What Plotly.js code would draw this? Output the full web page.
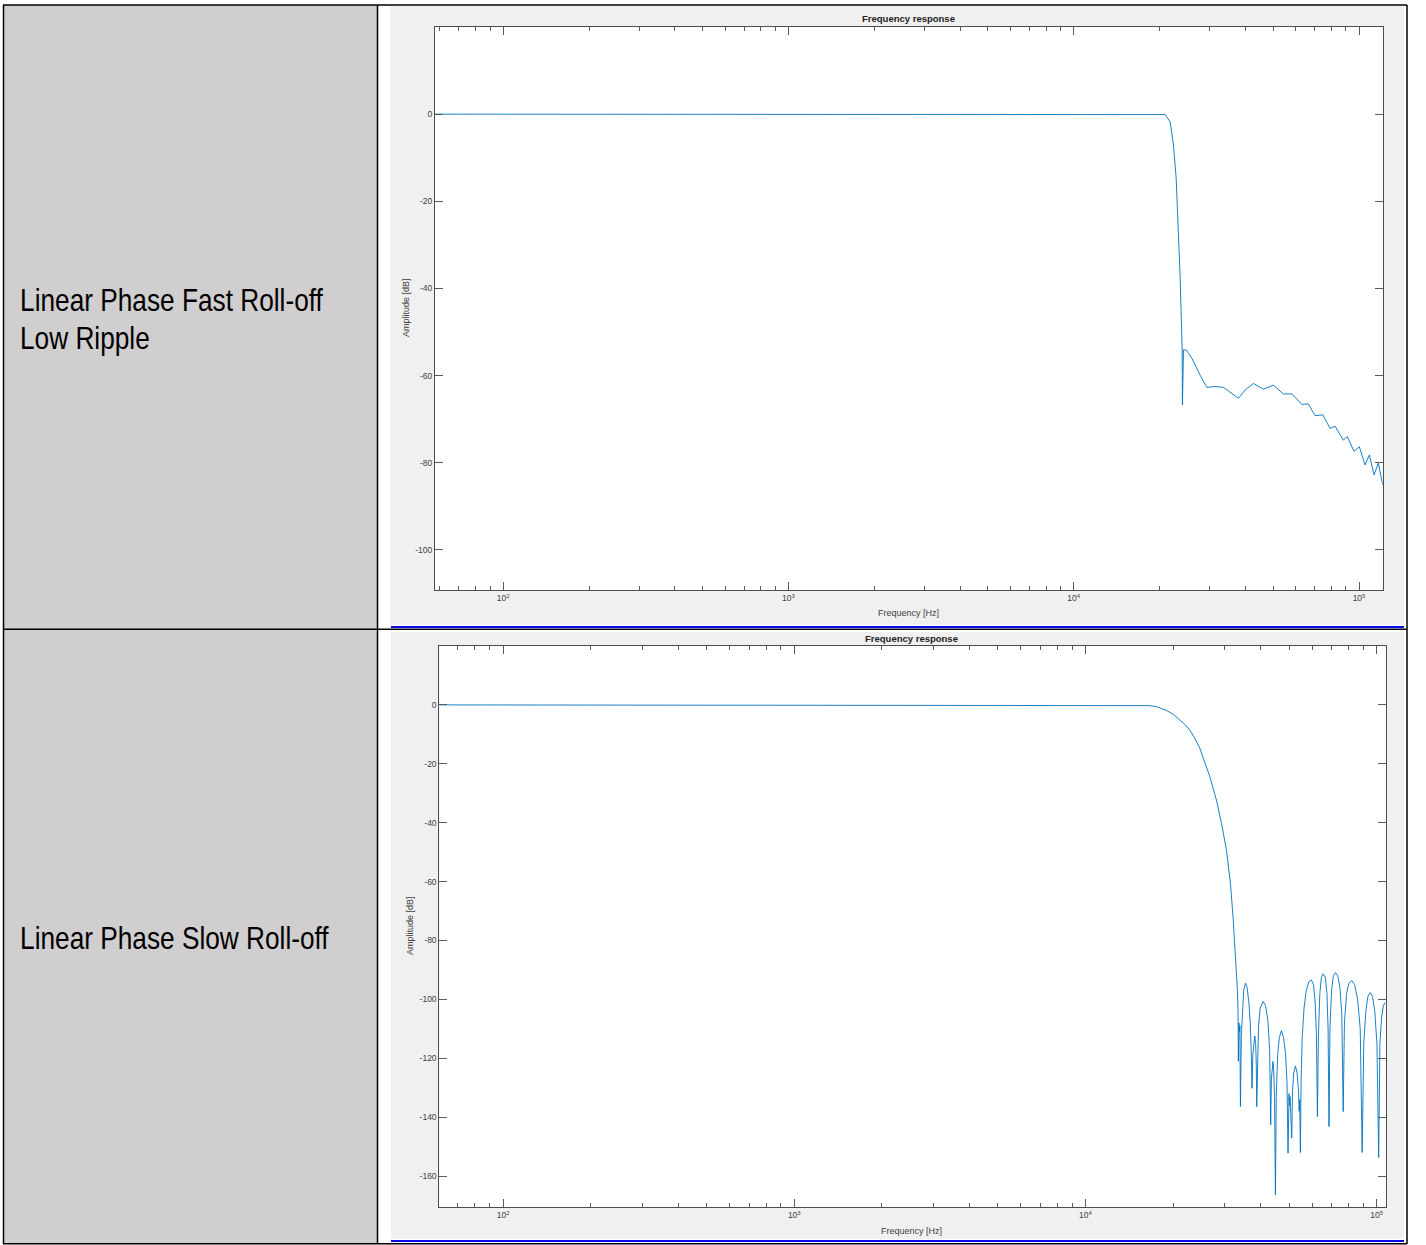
<!DOCTYPE html>
<html>
<head>
<meta charset="utf-8">
<script src="https://cdn.plot.ly/plotly-3.0.1.min.js"></script>
<style>
  html, body { margin: 0; padding: 0; background: #ffffff; }
  #chart { width: 1426px; height: 1245px; }
</style>
</head>
<body>
<div id="chart"></div>
<script>
// ---------------- data ----------------
const rowLabels = ["Linear Phase Fast Roll-off", "Low Ripple", "Linear Phase Slow Roll-off"];
const plotTitle = "Frequency response";
const xTitle = "Frequency [Hz]";
const yTitle = "Amplitude [dB]";

const xTickVals = [100, 1000, 10000, 100000];
const xTickText = ["10<sup>2</sup>", "10<sup>3</sup>", "10<sup>4</sup>", "10<sup>5</sup>"];
const xMinorVals = [60, 70, 80, 90, 200, 300, 400, 500, 600, 700, 800, 900,
  2000, 3000, 4000, 5000, 6000, 7000, 8000, 9000,
  20000, 30000, 40000, 50000, 60000, 70000, 80000, 90000];

const yTickVals1 = [0, -20, -40, -60, -80, -100];
const yTickText1 = ["0", "-20", "-40", "-60", "-80", "-100"];
const yTickVals2 = [0, -20, -40, -60, -80, -100, -120, -140, -160];
const yTickText2 = ["0", "-20", "-40", "-60", "-80", "-100", "-120", "-140", "-160"];

// Filter 1: Linear Phase Fast Roll-off Low Ripple
const freq1 = [57.7, 100, 1000, 10000, 19000, 20920, 21780, 22360, 22860, 23290,
  23610, 23870, 23990, 24040, 24120, 24250, 24780, 25940, 27730, 29280,
  31330, 33470, 35830, 37780, 39880, 42660, 46220, 50120, 54330, 58130,
  63000, 66440, 70140, 74630, 79140, 82400, 88100, 91000, 96050, 100200,
  105000, 108700, 112900, 116860, 121060];
const amp1 = [0, 0, 0, 0, 0, -0.1, -1.8, -7.1, -14.7, -26.1,
  -37.6, -49.1, -53.7, -66.7, -55, -54.1, -54.1, -56, -59.9, -62.7,
  -62.5, -62.7, -64.1, -65.2, -63.3, -61.8, -63.1, -62.2, -64.2, -64.2,
  -66.6, -66.5, -69.2, -69.0, -72.1, -71.6, -74.8, -74.0, -77.4, -76.3,
  -80.5, -78.2, -82.8, -80.1, -85.1];

// Filter 2: Linear Phase Slow Roll-off
const freq2 = [60.4, 100, 1000, 10000, 14530, 16620, 17530, 18970, 19980, 21070,
  21920, 22800, 23730, 24690, 25680, 26720, 28170, 29310, 30480, 31460,
  32110, 32810, 33250, 33410, 33500,
  33650, 33800, 33900, 34050, 34300, 34600, 34950, 35430, 35900, 36400,
  36800, 37100, 37320, 37550, 37850, 38130, 38400, 38600, 38740, 38950,
  39300, 39800, 40720, 41500, 42300, 42900, 43260, 43500, 43850, 44050,
  44300, 44600, 44900, 45200, 45700, 46300, 47090, 47900, 48700, 49200,
  49610, 49800, 50000, 50200, 50400, 50700, 51080, 51400, 51900, 52600,
  53300, 53900, 54200, 54400, 54550, 54720, 55000, 55500, 56300, 57300,
  58500, 59700, 60700, 61500, 62100, 62590, 63100, 63800, 64600, 65520,
  66600, 67500, 68100, 68600, 69100, 70000, 71000, 72210, 73500, 74800,
  75900, 76740, 77500, 78800, 80300, 82080, 84000, 86000, 87800, 89170,
  90300, 91800, 93300, 95000, 96800, 98500, 100200, 101600, 102600, 104000,
  105500, 107100];
const amp2 = [0, 0, 0, 0, -0.05, -0.25, -0.6, -1.9, -3.1, -5.1,
  -6.6, -8.5, -11.3, -14.7, -19.2, -24.3, -32.3, -40.2, -49.2, -60.5,
  -71.9, -85.5, -96.8, -104, -121,
  -108, -111, -109, -136.4, -112, -102, -97, -94.5, -96, -101,
  -108, -118, -130.2, -119, -113.5, -112.4, -115, -122, -136.4, -120,
  -109, -103, -100.7, -102, -107, -117, -142.6, -127, -122, -121.1,
  -124, -133, -166.4, -133, -119, -113, -110.6, -113, -119, -128,
  -152.2, -138, -132, -136, -133, -139, -147.1, -131, -125, -122.6,
  -125, -131, -138, -134, -142, -152, -128, -113, -103, -97,
  -94, -93.4, -95, -101, -112, -139.8, -112, -98, -92.5, -91.3,
  -92.5, -98, -110, -143.2, -110, -97, -92, -90.9, -92, -96,
  -105, -138.1, -108, -98, -94.5, -93.6, -95, -100, -110, -152,
  -115, -104, -99, -97.7, -99, -104, -115, -153.7, -115, -106,
  -102, -101];

// ---------------- layout helpers ----------------
const W = 1426, H = 1245;
const px = x => x / W;
const py = y => 1 - y / H;

const FONT = "Liberation Sans, Arial, Helvetica, sans-serif";
const lineColor = "#0072BD";
const axColor = "#4d4d4d";
const tickColor = "#5a5a5a";
const tickFont = { family: FONT, size: 8.5, color: "#404040" };

function rect(x0, y0, x1, y1, fill) {
  return { type: "rect", xref: "paper", yref: "paper", layer: "below",
    x0: px(x0), x1: px(x1), y0: py(y1), y1: py(y0),
    fillcolor: fill, line: { width: 0 } };
}
function hline(x0, x1, y, color, w) {
  return { type: "line", xref: "paper", yref: "paper", layer: "above",
    x0: px(x0), x1: px(x1), y0: py(y), y1: py(y), line: { color: color, width: w } };
}
function vline(x, y0, y1, color, w) {
  return { type: "line", xref: "paper", yref: "paper", layer: "above",
    x0: px(x), x1: px(x), y0: py(y0), y1: py(y1), line: { color: color, width: w } };
}
function xAxisCfg(domain, range, anchor) {
  return {
    type: "log", domain: domain, range: range, anchor: anchor,
    tickmode: "array", tickvals: xTickVals, ticktext: xTickText,
    ticks: "inside", ticklen: 8, tickwidth: 1, tickcolor: tickColor,
    minor: { tickmode: "array", tickvals: xMinorVals, ticks: "inside", ticklen: 4, tickwidth: 1, tickcolor: tickColor, showgrid: false },
    showline: true, linecolor: axColor, linewidth: 1, mirror: "ticks",
    showgrid: false, zeroline: false, tickfont: tickFont, fixedrange: true
  };
}
function yAxisCfg(domain, range, anchor, vals, text) {
  return {
    domain: domain, range: range, anchor: anchor,
    tickmode: "array", tickvals: vals, ticktext: text,
    ticks: "inside", ticklen: 8, tickwidth: 1, tickcolor: tickColor,
    showline: true, linecolor: axColor, linewidth: 1, mirror: "ticks",
    showgrid: false, zeroline: false, tickfont: tickFont, fixedrange: true
  };
}

const traces = [
  { x: freq1, y: amp1, type: "scatter", mode: "lines", xaxis: "x", yaxis: "y",
    line: { color: lineColor, width: 0.9 }, hoverinfo: "skip" },
  { x: freq2, y: amp2, type: "scatter", mode: "lines", xaxis: "x2", yaxis: "y2",
    line: { color: lineColor, width: 0.9 }, hoverinfo: "skip" }
];

const shapes = [
  rect(4, 5, 377, 629, "#d0cece"),
  rect(4, 630, 377, 1244, "#d0cece"),
  rect(390, 6, 1404, 625, "#f0f0f0"),
  rect(391, 632, 1404, 1239, "#f0f0f0"),
  rect(435, 27, 1382.7, 590, "#ffffff"),
  rect(439.3, 646, 1385.7, 1207, "#ffffff"),
  hline(391, 1404, 627, "#0a0ae6", 2.2),
  hline(391, 1404, 1241, "#0a0ae6", 2.2),
  hline(3, 1407, 5, "#000000", 1.5),
  hline(3, 1407, 629.2, "#000000", 1.5),
  hline(3, 1407, 1243.8, "#000000", 1.5),
  vline(3.5, 5, 1244, "#000000", 1.5),
  vline(377.5, 5, 1244, "#000000", 1.5),
  vline(1407, 5, 1244, "#000000", 1.5)
];

const LABEL_FONT = { family: "Liberation Sans, Arial, sans-serif", size: 32, color: "#000" };
const annotations = [
  { text: rowLabels[0], x: px(18), y: py(300), xanchor: "left", yanchor: "middle", font: LABEL_FONT },
  { text: rowLabels[1], x: px(18), y: py(338), xanchor: "left", yanchor: "middle", font: LABEL_FONT },
  { text: rowLabels[2], x: px(18), y: py(938), xanchor: "left", yanchor: "middle", font: LABEL_FONT },
  { text: "<b>" + plotTitle + "</b>", x: px(908), y: py(19), xanchor: "center", yanchor: "middle",
    font: { family: FONT, size: 9.5, color: "#222" } },
  { text: xTitle, x: px(908), y: py(613), xanchor: "center", yanchor: "middle",
    font: { family: FONT, size: 9, color: "#404040" } },
  { text: yTitle, x: px(406), y: py(308), xanchor: "center", yanchor: "middle", textangle: -90,
    font: { family: FONT, size: 9, color: "#404040" } },
  { text: "<b>" + plotTitle + "</b>", x: px(911), y: py(638), xanchor: "center", yanchor: "middle",
    font: { family: FONT, size: 9.5, color: "#222" } },
  { text: xTitle, x: px(911), y: py(1231), xanchor: "center", yanchor: "middle",
    font: { family: FONT, size: 9, color: "#404040" } },
  { text: yTitle, x: px(410), y: py(926), xanchor: "center", yanchor: "middle", textangle: -90,
    font: { family: FONT, size: 9, color: "#404040" } }
].map(a => Object.assign({ xref: "paper", yref: "paper", showarrow: false }, a));

const layout = {
  width: W, height: H,
  margin: { l: 0, r: 0, t: 0, b: 0, pad: 0 },
  paper_bgcolor: "#ffffff", plot_bgcolor: "#ffffff",
  showlegend: false,
  xaxis: xAxisCfg([px(435), px(1382.7)], [1.761, 5.083], "y"),
  yaxis: yAxisCfg([py(590), py(27)], [-109.2, 20], "x", yTickVals1, yTickText1),
  xaxis2: xAxisCfg([px(439.3), px(1385.7)], [1.781, 5.031], "y2"),
  yaxis2: yAxisCfg([py(1207), py(646)], [-170.5, 20], "x2", yTickVals2, yTickText2),
  shapes: shapes,
  annotations: annotations
};

Plotly.newPlot("chart", traces, layout, { staticPlot: true, displayModeBar: false }).then(gd => {
  // condense the row labels horizontally (reference uses a narrow typeface)
  const s = 0.82;
  const texts = gd.querySelectorAll(".annotation");
  for (let i = 0; i < 3 && i < texts.length; i++) {
    const t = texts[i].querySelector("text");
    if (!t) continue;
    const bb = t.getBBox();
    t.setAttribute("transform", "translate(" + (bb.x * (1 - s)) + ",0) scale(" + s + ",1)");
  }
});
</script>
</body>
</html>
